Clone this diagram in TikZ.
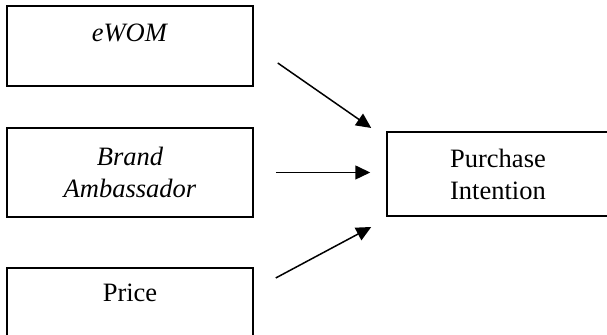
\documentclass[tikz,border=0pt]{standalone}
\usepackage{fontspec}
\setmainfont{Liberation Serif}
\usetikzlibrary{arrows.meta, positioning}

\begin{document}
\begin{tikzpicture}[
        x=0.5pt, y=0.5pt,
        every node/.style={font=\fontsize{13.25}{16}\selectfont},
        box/.style={rectangle, draw, line width=0.75pt, minimum width=123pt, align=center, inner sep=0pt},
        arrow/.style={-{Triangle[length=7.5pt, width=7pt]}, line width=0.75pt}
    ]
        \useasboundingbox (0,0) rectangle (607,335);
        \node[box, minimum height=40pt, text height=9pt, text depth=13.2pt] (ewom) at (130,289) {\textit{eWOM}};
        \node[box, minimum height=44.5pt] (brand) at (130,162.5) {\textit{Brand}\\ \textit{Ambassador}};
        \node[box, minimum height=40pt, text height=9pt, text depth=15.2pt] (price) at (130,27) {Price};
        \node[box, minimum width=111pt, minimum height=42pt] (purchase) at (498,161) {Purchase\\ Intention};
        \draw[arrow] ([shift={(24,-17)}]ewom.east) -- ([shift={(-15,46)}]purchase.west);
        \draw[arrow] ([xshift=11pt]brand.east) -- ([shift={(-16,1.5)}]purchase.west);
        \draw[arrow] ([shift={(22,30)}]price.east) -- ([shift={(-15,-53)}]purchase.west);
    \end{tikzpicture}
\end{document}
